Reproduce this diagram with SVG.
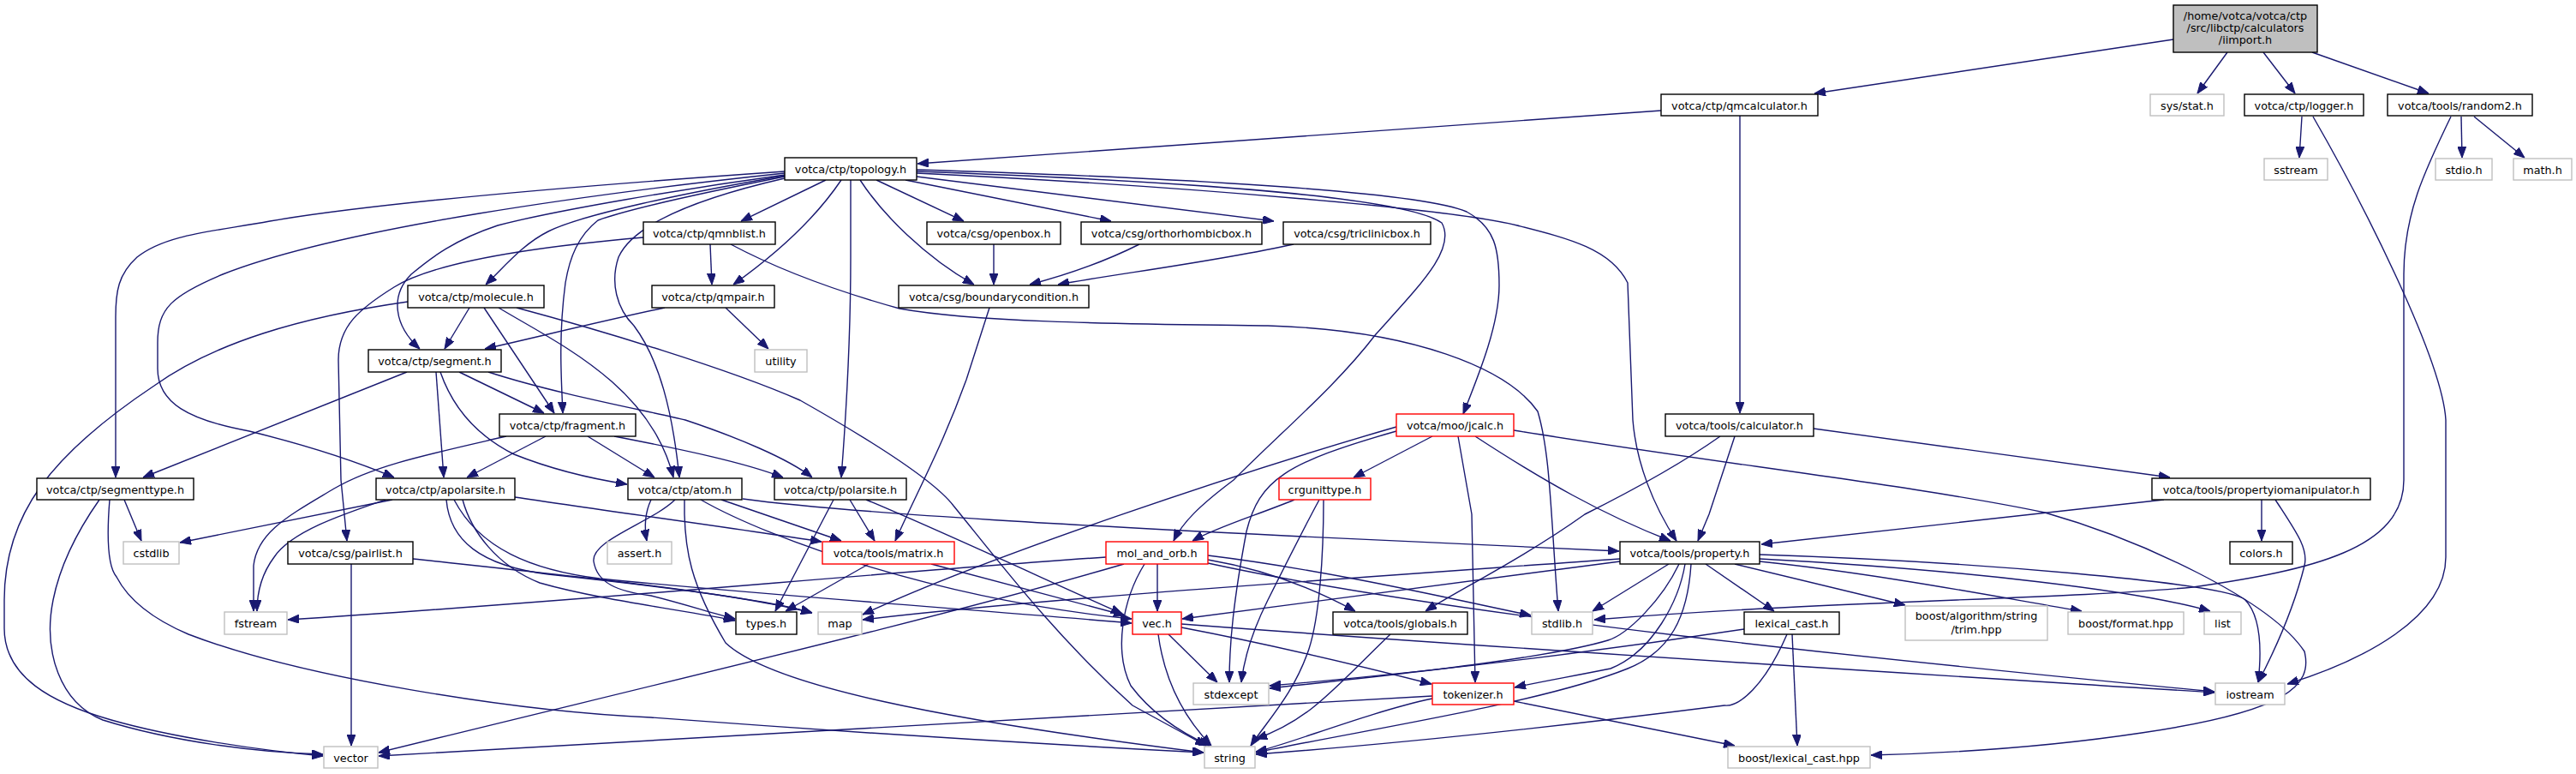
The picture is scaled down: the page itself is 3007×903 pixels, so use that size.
<svg xmlns="http://www.w3.org/2000/svg" width="3007" height="903" viewBox="0 0 3007 903">
<style>
.nb{fill:#fff;stroke:#000;stroke-width:1.4}
.ng{fill:#fff;stroke:#bfbfbf;stroke-width:1.4}
.nr{fill:#fff;stroke:#ff0000;stroke-width:1.4}
.nroot{fill:#bfbfbf;stroke:#000;stroke-width:1.4}
text{font-family:"DejaVu Sans",sans-serif;font-size:12.8px;fill:#000;text-anchor:middle}
.e path{fill:none;stroke:#191970;stroke-width:1.4;marker-end:url(#ah)}
</style>
<defs>
<marker id="ah" markerUnits="userSpaceOnUse" markerWidth="13" markerHeight="10" viewBox="0 0 13 10" refX="13" refY="5" orient="auto">
<path d="M0,0 L13,5 L0,10 z" fill="#191970" stroke="#191970"/>
</marker>
</defs>
<rect width="3007" height="903" fill="#fff"/>
<g class="e" id="edges">
<path d="M2537,46 L2118,109"/>
<path d="M2600,61 L2565,109"/>
<path d="M2642,61 L2679,109"/>
<path d="M2699,61 L2835,109"/>
<path d="M1939,129 L1071,191"/>
<path d="M2031,135 L2031,482"/>
<path d="M2687,136 L2684,184"/>
<path d="M2700,136 C2760,240 2851,420 2855,490 L2855,650 C2855,720 2760,770 2670,798"/>
<path d="M2873,136 L2874,184"/>
<path d="M2888,136 L2947,184"/>
<path d="M2861,136 C2830,200 2806,250 2806,320 L2806,560 C2806,640 2700,665 2560,685 C2400,700 2150,700 1861,723"/>
<path d="M964,210 L865,258"/>
<path d="M1023,210 L1125,258"/>
<path d="M1057,210 L1297,258"/>
<path d="M1070,206 L1487,258"/>
<path d="M1004,210 C1030,250 1080,300 1137,332"/>
<path d="M982,210 C955,250 915,290 856,332"/>
<path d="M993,210 L993,300 C993,400 988,480 982,557"/>
<path d="M916,200 C700,215 450,235 315,258 C250,270 194,273 160,300 C138,320 135,340 135,370 L135,557"/>
<path d="M916,202 C700,225 400,265 260,320 C200,345 184,360 184,400 L184,430 C184,470 220,490 291,503 C360,520 420,540 460,557"/>
<path d="M916,204 C800,220 650,245 581,263 C530,280 504,300 480,320 C455,345 460,380 490,407"/>
<path d="M916,205 C800,225 680,250 640,270 C610,285 590,310 567,332"/>
<path d="M916,206 C820,225 730,245 698,257 C675,275 665,300 660,330 C652,390 655,440 657,482"/>
<path d="M916,208 C820,230 740,260 722,300 C712,330 720,360 740,380 C770,420 785,480 793,557"/>
<path d="M1070,198 C1300,205 1650,220 1712,247 C1745,265 1750,290 1750,333 C1750,380 1725,440 1708,483"/>
<path d="M1070,200 C1400,212 1640,230 1683,260 C1700,290 1660,330 1606,390 C1560,450 1500,500 1440,560 C1400,590 1380,610 1370,631"/>
<path d="M1070,202 C1400,218 1700,245 1771,263 C1830,278 1880,290 1900,330 L1906,490 C1910,540 1930,590 1957,631"/>
<path d="M829,285 L831,332"/>
<path d="M751,277 C600,290 500,310 460,335 C420,360 395,380 395,420 L398,560 L405,631"/>
<path d="M853,285 C900,310 960,335 1050,360 C1150,378 1350,378 1480,380 C1650,385 1760,430 1795,480 C1810,530 1810,600 1819,713"/>
<path d="M776,359 C700,375 620,395 566,407"/>
<path d="M847,359 L897,407"/>
<path d="M1160,285 L1160,332"/>
<path d="M1330,285 C1290,305 1240,322 1202,332"/>
<path d="M1510,285 C1420,305 1300,320 1235,332"/>
<path d="M1155,359 L1128,443 C1100,520 1075,565 1045,631"/>
<path d="M548,359 L519,407"/>
<path d="M565,359 L647,482"/>
<path d="M582,359 C650,400 760,450 786,557"/>
<path d="M476,352 C350,370 250,400 180,450 C60,530 5,600 5,700 L5,733 C5,790 60,820 130,840 C200,860 300,875 377,882"/>
<path d="M603,359 C700,385 850,430 934,467 C1010,510 1090,560 1113,590 C1170,660 1230,740 1322,823 L1408,870"/>
<path d="M475,434 L167,557"/>
<path d="M509,434 L518,557"/>
<path d="M536,434 L635,482"/>
<path d="M514,434 C530,480 560,510 600,530 C650,550 700,560 732,565"/>
<path d="M570,434 C650,460 760,480 800,490 C860,510 920,535 948,557"/>
<path d="M637,509 L545,557"/>
<path d="M686,509 L764,557"/>
<path d="M717,509 C800,525 870,540 914,557"/>
<path d="M591,509 C500,530 436,543 390,570 C340,600 300,620 296,660 L296,713"/>
<path d="M458,583 L210,633"/>
<path d="M450,583 C400,600 340,620 320,650 C305,670 300,690 300,713"/>
<path d="M540,583 C550,620 580,660 630,680 C700,700 800,712 858,724"/>
<path d="M521,583 C525,630 560,660 640,670 C780,685 900,700 948,715"/>
<path d="M530,583 C560,640 620,665 700,675 C900,695 1150,712 1321,727"/>
<path d="M601,580 C700,595 850,615 959,632"/>
<path d="M760,583 C752,600 752,615 755,631"/>
<path d="M788,583 C760,610 690,630 693,655 C697,680 720,690 760,695 C800,705 830,715 858,722"/>
<path d="M799,583 L799,600 C800,640 805,680 847,750 C900,800 1100,840 1405,878"/>
<path d="M818,583 C900,630 1100,700 1321,722"/>
<path d="M842,583 L982,631"/>
<path d="M867,582 C1000,600 1300,615 1500,625 L1890,643"/>
<path d="M973,583 L905,713"/>
<path d="M992,583 L1021,631"/>
<path d="M1011,583 C1100,620 1250,690 1310,716"/>
<path d="M1014,658 L917,713"/>
<path d="M1087,658 L1313,718"/>
<path d="M410,658 L410,870"/>
<path d="M482,652 C650,670 850,690 948,715"/>
<path d="M145,583 L165,631"/>
<path d="M116,583 C90,620 70,660 62,700 C50,760 70,820 120,840 C200,865 300,878 377,880"/>
<path d="M128,583 C125,620 125,660 136,673 C150,700 180,723 220,740 C350,790 600,830 760,837 C1000,855 1250,870 1405,878"/>
<path d="M1511,583 C1470,600 1420,615 1392,631"/>
<path d="M1540,583 C1520,620 1500,660 1480,700 C1460,740 1452,770 1449,796"/>
<path d="M1545,583 C1545,650 1540,720 1528,757 C1510,810 1480,840 1460,870"/>
<path d="M1672,509 L1580,557"/>
<path d="M1630,498 C1450,550 1150,650 1007,717"/>
<path d="M1630,503 C1500,540 1470,560 1455,620 C1440,700 1435,750 1435,796"/>
<path d="M1702,509 L1718,600 L1722,796"/>
<path d="M1722,509 C1800,560 1870,600 1950,631"/>
<path d="M1767,502 C2000,540 2240,567 2387,598 C2500,630 2650,700 2690,760 C2700,800 2670,830 2500,855 C2400,870 2300,878 2184,881"/>
<path d="M1351,658 L1351,713"/>
<path d="M1291,650 C1000,670 700,700 336,723"/>
<path d="M1312,658 C1100,720 800,790 442,878"/>
<path d="M1336,658 C1310,700 1300,760 1320,800 C1350,840 1390,860 1412,870"/>
<path d="M1410,648 C1550,665 1700,700 1787,718"/>
<path d="M1410,653 C1480,665 1540,690 1582,713"/>
<path d="M1410,657 C1700,720 2200,770 2585,807"/>
<path d="M1364,740 L1421,796"/>
<path d="M1352,740 C1360,800 1385,840 1414,870"/>
<path d="M1379,732 C1500,755 1600,780 1671,798"/>
<path d="M1379,728 C1800,760 2300,790 2585,808"/>
<path d="M1891,652 C1500,680 1200,700 1007,723"/>
<path d="M1891,655 C1700,680 1500,705 1380,722"/>
<path d="M1948,658 L1859,713"/>
<path d="M1960,658 C1940,700 1900,740 1877,747 C1800,770 1600,790 1482,803"/>
<path d="M1967,658 C1960,700 1930,760 1880,780 C1830,790 1800,795 1768,802"/>
<path d="M1974,658 C1970,720 1950,760 1900,780 C1800,820 1600,850 1466,878"/>
<path d="M1991,658 L2071,713"/>
<path d="M2025,658 L2224,706"/>
<path d="M2054,655 C2200,670 2350,700 2430,713"/>
<path d="M2054,652 C2300,665 2500,690 2580,713"/>
<path d="M2054,647 C2300,655 2600,680 2621,700 C2640,720 2640,760 2636,796"/>
<path d="M2526,583 L2056,635"/>
<path d="M2640,583 L2640,631"/>
<path d="M2656,583 C2680,620 2695,640 2690,660 C2680,700 2660,750 2636,796"/>
<path d="M2117,500 L2533,557"/>
<path d="M2025,509 L1995,600 L1982,631"/>
<path d="M2008,509 C1950,550 1870,590 1850,600 C1780,650 1700,690 1664,713"/>
<path d="M1623,740 C1560,800 1530,840 1466,862"/>
<path d="M1672,815 C1600,830 1500,870 1466,877"/>
<path d="M1672,812 C1200,835 800,860 442,882"/>
<path d="M1767,818 L2025,870"/>
<path d="M2036,734 C1800,770 1600,790 1482,800"/>
<path d="M2086,740 C2060,800 2030,825 2013,823 C1800,850 1600,870 1466,880"/>
<path d="M2092,740 L2098,870"/>
</g>
<g id="iimport"><rect class="nroot" x="2537" y="6" width="168" height="55"/><text x="2621" y="23">/home/votca/votca/ctp</text><text x="2621" y="37">/src/libctp/calculators</text><text x="2621" y="51">/iimport.h</text></g>
<g id="qmcalculator"><rect class="nb" x="1939" y="110" width="183" height="25"/><text x="2030.5" y="127.5">votca/ctp/qmcalculator.h</text></g>
<g id="sysstat"><rect class="ng" x="2510" y="110" width="86" height="25"/><text x="2553" y="127.5">sys/stat.h</text></g>
<g id="logger"><rect class="nb" x="2620" y="110" width="139" height="25"/><text x="2689.5" y="127.5">votca/ctp/logger.h</text></g>
<g id="random2"><rect class="nb" x="2787" y="110" width="169" height="25"/><text x="2871.5" y="127.5">votca/tools/random2.h</text></g>
<g id="topology"><rect class="nb" x="916" y="184" width="154" height="26"/><text x="993" y="201.5">votca/ctp/topology.h</text></g>
<g id="sstream"><rect class="ng" x="2643" y="185" width="74" height="25"/><text x="2680" y="202.5">sstream</text></g>
<g id="stdio"><rect class="ng" x="2843" y="185" width="66" height="25"/><text x="2876" y="202.5">stdio.h</text></g>
<g id="math"><rect class="ng" x="2934" y="185" width="68" height="25"/><text x="2968" y="202.5">math.h</text></g>
<g id="qmnblist"><rect class="nb" x="751" y="259" width="154" height="26"/><text x="828" y="276.5">votca/ctp/qmnblist.h</text></g>
<g id="openbox"><rect class="nb" x="1082" y="259" width="156" height="26"/><text x="1160" y="276.5">votca/csg/openbox.h</text></g>
<g id="orthorhombicbox"><rect class="nb" x="1262" y="259" width="211" height="26"/><text x="1367.5" y="276.5">votca/csg/orthorhombicbox.h</text></g>
<g id="triclinicbox"><rect class="nb" x="1498" y="259" width="172" height="26"/><text x="1584" y="276.5">votca/csg/triclinicbox.h</text></g>
<g id="molecule"><rect class="nb" x="476" y="333" width="159" height="26"/><text x="555.5" y="350.5">votca/ctp/molecule.h</text></g>
<g id="qmpair"><rect class="nb" x="761" y="333" width="143" height="26"/><text x="832.5" y="350.5">votca/ctp/qmpair.h</text></g>
<g id="boundarycondition"><rect class="nb" x="1049" y="333" width="222" height="26"/><text x="1160" y="350.5">votca/csg/boundarycondition.h</text></g>
<g id="segment"><rect class="nb" x="430" y="408" width="155" height="26"/><text x="507.5" y="425.5">votca/ctp/segment.h</text></g>
<g id="utility"><rect class="ng" x="881" y="408" width="61" height="26"/><text x="911.5" y="425.5">utility</text></g>
<g id="fragment"><rect class="nb" x="583" y="483" width="159" height="26"/><text x="662.5" y="500.5">votca/ctp/fragment.h</text></g>
<g id="jcalc"><rect class="nr" x="1630" y="483" width="137" height="26"/><text x="1698.5" y="500.5">votca/moo/jcalc.h</text></g>
<g id="calculator"><rect class="nb" x="1944" y="483" width="173" height="26"/><text x="2030.5" y="500.5">votca/tools/calculator.h</text></g>
<g id="segmenttype"><rect class="nb" x="43" y="558" width="183" height="25"/><text x="134.5" y="575.5">votca/ctp/segmenttype.h</text></g>
<g id="apolarsite"><rect class="nb" x="439" y="558" width="162" height="25"/><text x="520" y="575.5">votca/ctp/apolarsite.h</text></g>
<g id="atom"><rect class="nb" x="733" y="558" width="133" height="25"/><text x="799.5" y="575.5">votca/ctp/atom.h</text></g>
<g id="polarsite"><rect class="nb" x="904" y="558" width="154" height="25"/><text x="981" y="575.5">votca/ctp/polarsite.h</text></g>
<g id="crgunittype"><rect class="nr" x="1493" y="558" width="107" height="25"/><text x="1546.5" y="575.5">crgunittype.h</text></g>
<g id="propertyiomanipulator"><rect class="nb" x="2512" y="558" width="255" height="25"/><text x="2639.5" y="575.5">votca/tools/propertyiomanipulator.h</text></g>
<g id="cstdlib"><rect class="ng" x="144" y="632" width="65" height="26"/><text x="176.5" y="649.5">cstdlib</text></g>
<g id="pairlist"><rect class="nb" x="336" y="632" width="146" height="26"/><text x="409" y="649.5">votca/csg/pairlist.h</text></g>
<g id="assert"><rect class="ng" x="709" y="632" width="75" height="26"/><text x="746.5" y="649.5">assert.h</text></g>
<g id="matrix"><rect class="nr" x="960" y="632" width="154" height="26"/><text x="1037" y="649.5">votca/tools/matrix.h</text></g>
<g id="mol_and_orb"><rect class="nr" x="1291" y="632" width="119" height="26"/><text x="1350.5" y="649.5">mol_and_orb.h</text></g>
<g id="property"><rect class="nb" x="1891" y="632" width="163" height="26"/><text x="1972.5" y="649.5">votca/tools/property.h</text></g>
<g id="colors"><rect class="nb" x="2603" y="632" width="73" height="26"/><text x="2639.5" y="649.5">colors.h</text></g>
<g id="fstream"><rect class="ng" x="262" y="714" width="73" height="26"/><text x="298.5" y="731.5">fstream</text></g>
<g id="types"><rect class="nb" x="859" y="714" width="71" height="26"/><text x="894.5" y="731.5">types.h</text></g>
<g id="map"><rect class="ng" x="955" y="714" width="51" height="26"/><text x="980.5" y="731.5">map</text></g>
<g id="vec"><rect class="nr" x="1322" y="714" width="57" height="26"/><text x="1350.5" y="731.5">vec.h</text></g>
<g id="globals"><rect class="nb" x="1556" y="714" width="157" height="26"/><text x="1634.5" y="731.5">votca/tools/globals.h</text></g>
<g id="stdlib"><rect class="ng" x="1788" y="714" width="71" height="26"/><text x="1823.5" y="731.5">stdlib.h</text></g>
<g id="lexical_cast"><rect class="nb" x="2036" y="714" width="111" height="26"/><text x="2091.5" y="731.5">lexical_cast.h</text></g>
<g id="trim"><rect class="ng" x="2224" y="707" width="166" height="40"/><text x="2307" y="723">boost/algorithm/string</text><text x="2307" y="738.5">/trim.hpp</text></g>
<g id="format"><rect class="ng" x="2414" y="714" width="135" height="26"/><text x="2481.5" y="731.5">boost/format.hpp</text></g>
<g id="list"><rect class="ng" x="2573" y="714" width="43" height="26"/><text x="2594.5" y="731.5">list</text></g>
<g id="stdexcept"><rect class="ng" x="1393" y="797" width="88" height="25"/><text x="1437" y="814.5">stdexcept</text></g>
<g id="tokenizer"><rect class="nr" x="1672" y="797" width="95" height="25"/><text x="1719.5" y="814.5">tokenizer.h</text></g>
<g id="iostream"><rect class="ng" x="2586" y="797" width="81" height="25"/><text x="2626.5" y="814.5">iostream</text></g>
<g id="vector"><rect class="ng" x="378" y="871" width="63" height="25"/><text x="409.5" y="888.5">vector</text></g>
<g id="string"><rect class="ng" x="1406" y="871" width="59" height="25"/><text x="1435.5" y="888.5">string</text></g>
<g id="boost_lexical_cast"><rect class="ng" x="2017" y="871" width="166" height="25"/><text x="2100" y="888.5">boost/lexical_cast.hpp</text></g>
</svg>
